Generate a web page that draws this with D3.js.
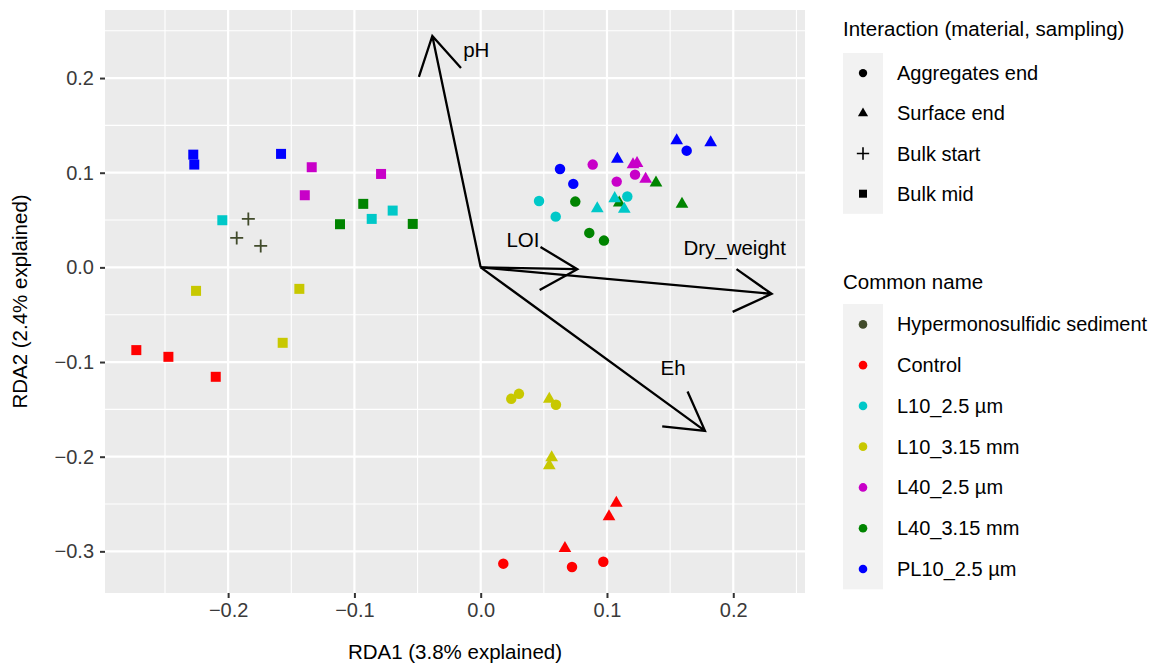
<!DOCTYPE html>
<html>
<head>
<meta charset="utf-8">
<script src="https://cdn.jsdelivr.net/npm/d3@7"></script>
<style>
  body { margin: 0; background: #fff; }
  text { font-family: "Liberation Sans", Arial, sans-serif; }
</style>
</head>
<body>
<svg width="1150" height="667"></svg>
<script>
// ---- data ----
var commonNames = ["Hypermonosulfidic sediment", "Control", "L10_2.5 µm", "L10_3.15 mm",
                   "L40_2.5 µm", "L40_3.15 mm", "PL10_2.5 µm"];
var nameColors = ["#414B2B", "#FF0000", "#00C8C8", "#C8C800", "#C800C8", "#008400", "#0000FF"];
var interactions = ["Aggregates end", "Surface end", "Bulk start", "Bulk mid"];

// one entry per site
var siteName = [
  // Bulk mid
  "PL10_2.5 µm","PL10_2.5 µm","PL10_2.5 µm",
  "L40_2.5 µm","L40_2.5 µm","L40_2.5 µm",
  "L10_2.5 µm","L10_2.5 µm","L10_2.5 µm",
  "L40_3.15 mm","L40_3.15 mm","L40_3.15 mm",
  "L10_3.15 mm","L10_3.15 mm","L10_3.15 mm",
  "Control","Control","Control",
  // Bulk start
  "Hypermonosulfidic sediment","Hypermonosulfidic sediment","Hypermonosulfidic sediment",
  // Aggregates end
  "PL10_2.5 µm","PL10_2.5 µm","PL10_2.5 µm",
  "L40_2.5 µm","L40_2.5 µm","L40_2.5 µm",
  "L40_3.15 mm","L40_3.15 mm","L40_3.15 mm",
  "L10_2.5 µm","L10_2.5 µm","L10_2.5 µm",
  "L10_3.15 mm","L10_3.15 mm","L10_3.15 mm",
  "Control","Control","Control",
  // Surface end
  "PL10_2.5 µm","PL10_2.5 µm","PL10_2.5 µm",
  "L40_2.5 µm","L40_2.5 µm","L40_2.5 µm",
  "L40_3.15 mm","L40_3.15 mm","L40_3.15 mm",
  "L10_2.5 µm","L10_2.5 µm","L10_2.5 µm",
  "L10_3.15 mm","L10_3.15 mm","L10_3.15 mm",
  "Control","Control","Control"
];
var siteType = [].concat(
  Array(18).fill("Bulk mid"), Array(3).fill("Bulk start"),
  Array(18).fill("Aggregates end"), Array(18).fill("Surface end"));
var siteRDA1 = [
  -0.2276,-0.2268,-0.1581, -0.1338,-0.1393,-0.0789, -0.2046,-0.0863,-0.0697,
  -0.0930,-0.1114,-0.0538, -0.2254,-0.1436,-0.1568, -0.2727,-0.2473,-0.2098,
  -0.1840,-0.1932,-0.1742,
  0.0628,0.0733,0.1631, 0.0887,0.1222,0.1077, 0.0749,0.0860,0.0976,
  0.0462,0.0594,0.1161, 0.0242,0.0303,0.0596, 0.0179,0.0723,0.0971,
  0.1552,0.1821,0.1082, 0.1206,0.1238,0.1306, 0.1388,0.1594,0.1097,
  0.0923,0.1061,0.1137, 0.0543,0.0562,0.0543, 0.1074,0.1016,0.0667
];
var siteRDA2 = [
  0.1191,0.1086,0.1199, 0.1058,0.0762,0.0987, 0.0498,0.0512,0.0600,
  0.0671,0.0456,0.0459, -0.0248,-0.0227,-0.0797, -0.0874,-0.0945,-0.1156,
  0.0512,0.0311,0.0227,
  0.1040,0.0882,0.1233, 0.1086,0.0980,0.0906, 0.0695,0.0364,0.0283,
  0.0702,0.0536,0.0748, -0.1389,-0.1336,-0.1452, -0.3130,-0.3166,-0.3110,
  0.1340,0.1319,0.1143, 0.1087,0.1098,0.0932, 0.0894,0.0668,0.0683,
  0.0622,0.0728,0.0615, -0.1391,-0.2010,-0.2095, -0.2490,-0.2633,-0.2968
];

// environmental arrows
var envNames = ["pH", "LOI", "Dry_weight", "Eh"];
var envRDA1 = [-0.0383, 0.0765, 0.2304, 0.1776];
var envRDA2 = [0.2445, -0.0019, -0.0280, -0.1727];
var envLabelRDA1 = [-0.0035, 0.0335, 0.2011, 0.1523];
var envLabelRDA2 = [0.2299, 0.0292, 0.0211, -0.1063];

var xTicks = [-0.2, -0.1, 0.0, 0.1, 0.2];
var yTicks = [-0.3, -0.2, -0.1, 0.0, 0.1, 0.2];
var xMinor = [-0.25, -0.15, -0.05, 0.05, 0.15, 0.25];
var yMinor = [-0.25, -0.15, -0.05, 0.05, 0.15, 0.25];

// ---- layout ----
var panel = {left: 105, right: 805, top: 10, bottom: 593};
var svg = d3.select("svg");

var xScale = d3.scaleLinear().domain([-0.2975, 0.2568]).range([panel.left, panel.right]);
var yScale = d3.scaleLinear().domain([-0.344, 0.2719]).range([panel.bottom, panel.top]);
var col = d3.scaleOrdinal().domain(commonNames).range(nameColors);

// panel background + grid
svg.append("rect")
  .attr("x", panel.left).attr("y", panel.top)
  .attr("width", panel.right - panel.left).attr("height", panel.bottom - panel.top)
  .attr("fill", "#EBEBEB");

var grid = svg.append("g");
grid.selectAll(".vmin").data(xMinor).enter().append("line")
  .attr("x1", xScale).attr("x2", xScale).attr("y1", panel.top).attr("y2", panel.bottom)
  .attr("stroke", "#fff").attr("stroke-width", 1.1);
grid.selectAll(".hmin").data(yMinor).enter().append("line")
  .attr("y1", yScale).attr("y2", yScale).attr("x1", panel.left).attr("x2", panel.right)
  .attr("stroke", "#fff").attr("stroke-width", 1.1);
grid.selectAll(".vmaj").data(xTicks).enter().append("line")
  .attr("x1", xScale).attr("x2", xScale).attr("y1", panel.top).attr("y2", panel.bottom)
  .attr("stroke", "#fff").attr("stroke-width", 2.2);
grid.selectAll(".hmaj").data(yTicks).enter().append("line")
  .attr("y1", yScale).attr("y2", yScale).attr("x1", panel.left).attr("x2", panel.right)
  .attr("stroke", "#fff").attr("stroke-width", 2.2);

// axes
var fmt = d3.format(".1f");
var xAxis = svg.append("g")
  .attr("transform", "translate(0," + panel.bottom + ")")
  .call(d3.axisBottom(xScale).tickValues(xTicks).tickFormat(fmt).tickSize(5).tickPadding(5));
var yAxis = svg.append("g")
  .attr("transform", "translate(" + panel.left + ",0)")
  .call(d3.axisLeft(yScale).tickValues(yTicks).tickFormat(fmt).tickSize(5).tickPadding(6));
[xAxis, yAxis].forEach(function(ax) {
  ax.select(".domain").remove();
  ax.selectAll(".tick line").attr("stroke", "#333").attr("stroke-width", 2);
  ax.selectAll(".tick text").attr("fill", "#3a3a3a")
    .style("font-size", "20px").style("font-family", "'Liberation Sans', Arial, sans-serif");
});

svg.append("text")
  .attr("x", (panel.left + panel.right) / 2).attr("y", 659)
  .attr("text-anchor", "middle").style("font-size", "20.5px")
  .text("RDA1 (3.8% explained)");
svg.append("text")
  .attr("transform", "translate(27," + (panel.top + panel.bottom) / 2 + ") rotate(-90)")
  .attr("text-anchor", "middle").style("font-size", "20.5px")
  .text("RDA2 (2.4% explained)");

// point shapes
function shapePath(type, big) {
  var k = big ? 1 : 0.8;
  if (type == "Aggregates end") return d3.symbol(d3.symbolCircle, 86 * k * k)();
  if (type == "Surface end") return d3.symbol(d3.symbolTriangle, 70 * k * k)();
  if (type == "Bulk mid") return d3.symbol(d3.symbolSquare, 100 * k * k)();
  var a = 6.5 * (big ? 1 : 0.95);
  return "M" + (-a) + ",0H" + a + "M0," + (-a) + "V" + a;
}
function isStroke(type) { return type == "Bulk start"; }

var sites = siteName.map(function(n, i) {
  return {name: n, type: siteType[i], x: siteRDA1[i], y: siteRDA2[i]};
});

svg.append("g").selectAll("path")
  .data(sites).enter().append("path")
  .attr("transform", function(d) { return "translate(" + xScale(d.x) + "," + yScale(d.y) + ")"; })
  .attr("d", function(d) { return shapePath(d.type, true); })
  .attr("fill", function(d) { return isStroke(d.type) ? "none" : col(d.name); })
  .attr("stroke", function(d) { return isStroke(d.type) ? col(d.name) : "none"; })
  .attr("stroke-width", 1.8);

// arrows
var arrows = svg.append("g");
var x0 = xScale(0), y0 = yScale(0);
envNames.forEach(function(n, i) {
  var tx = xScale(envRDA1[i]), ty = yScale(envRDA2[i]);
  var ang = Math.atan2(ty - y0, tx - x0), L = 43, a = Math.PI / 6;
  var p1 = [tx - L * Math.cos(ang - a), ty - L * Math.sin(ang - a)];
  var p2 = [tx - L * Math.cos(ang + a), ty - L * Math.sin(ang + a)];
  arrows.append("path")
    .attr("d", "M" + x0 + "," + y0 + "L" + tx + "," + ty +
               "M" + p1[0] + "," + p1[1] + "L" + tx + "," + ty + "L" + p2[0] + "," + p2[1])
    .attr("fill", "none").attr("stroke", "#000").attr("stroke-width", 2.3)
    .attr("stroke-linejoin", "miter");
  arrows.append("text")
    .attr("x", xScale(envLabelRDA1[i])).attr("y", yScale(envLabelRDA2[i]))
    .attr("dy", "0.35em").attr("text-anchor", "middle")
    .style("font-size", "20.5px").text(n);
});

// legends
var keyX = 843, keyW = 40, textX = 897, maxTextW = 250;
function legend(title, titleY, boxTop, step, items, drawKey) {
  var g = svg.append("g");
  g.append("text").attr("x", keyX).attr("y", titleY).style("font-size", "20.5px").text(title);
  g.append("rect").attr("x", keyX).attr("y", boxTop)
    .attr("width", keyW).attr("height", step * items.length).attr("fill", "#F2F2F2");
  items.forEach(function(it, i) {
    var cy = boxTop + step * (i + 0.5);
    drawKey(g, it, keyX + keyW / 2, cy);
    var t = g.append("text").attr("x", textX).attr("y", cy).attr("dy", "0.35em")
      .style("font-size", "20px").text(it);
    // squeeze a label that would run past the right edge
    if (t.node().getComputedTextLength() > maxTextW)
      t.attr("textLength", maxTextW).attr("lengthAdjust", "spacingAndGlyphs");
  });
}
legend("Interaction (material, sampling)", 36, 53, 40.2, interactions, function(g, t, cx, cy) {
  g.append("path").attr("transform", "translate(" + cx + "," + cy + ")")
    .attr("d", shapePath(t, false))
    .attr("fill", isStroke(t) ? "none" : "#000")
    .attr("stroke", isStroke(t) ? "#000" : "none").attr("stroke-width", 1.6);
});
legend("Common name", 289, 304, 40.76, commonNames, function(g, n, cx, cy) {
  g.append("circle").attr("cx", cx).attr("cy", cy).attr("r", 4.3).attr("fill", col(n));
});
</script>
</body>
</html>
